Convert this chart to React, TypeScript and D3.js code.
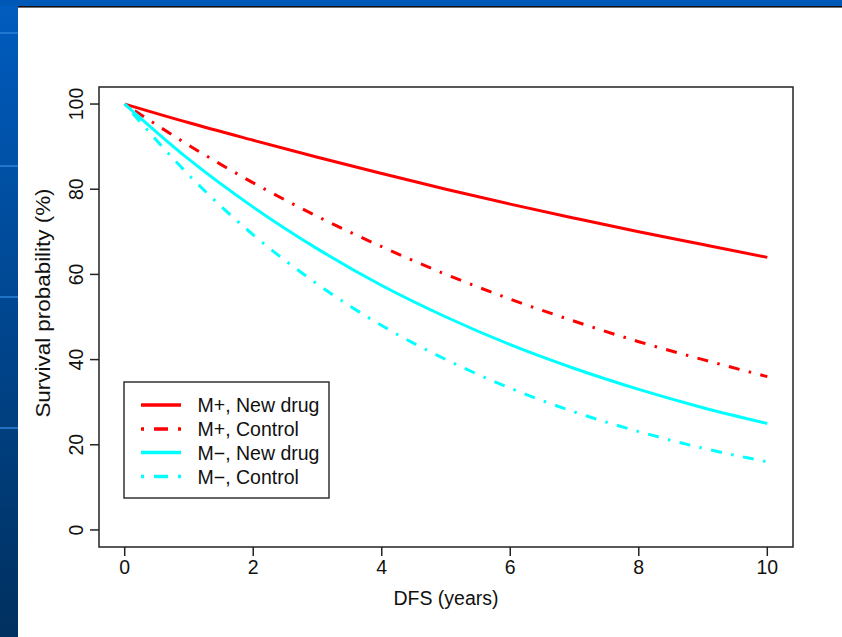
import React from "react";
import * as d3 from "d3";

const years = [0, 1, 2, 3, 4, 5, 6, 7, 8, 9, 10];
const mPlusNew = [100, 95.6, 91.5, 87.5, 83.7, 80, 76.5, 73.2, 70, 67, 64];
const mPlusControl = [100, 90.3, 81.5, 73.6, 66.5, 60, 54.2, 49, 44.2, 40, 36];
const mMinusNew = [100, 87, 75.8, 66, 57.4, 50, 43.5, 37.9, 33, 28.7, 25];
const mMinusControl = [100, 83.3, 69.3, 57.7, 48, 40, 33.3, 27.7, 23.1, 19.2, 16];

const xTicks = [0, 2, 4, 6, 8, 10];
const yTicks = [0, 20, 40, 60, 80, 100];

const seriesNames = ["M+, New drug", "M+, Control", "M\u2212, New drug", "M\u2212, Control"];
const seriesColors = ["#ff0000", "#ff0000", "#00ffff", "#00ffff"];
const seriesDashed = [false, true, false, true];
const seriesValues = [mPlusNew, mPlusControl, mMinusNew, mMinusControl];

const stripeYs = [32, 165, 296, 427];

export default function App() {
  const W = 842;
  const H = 637;
  const left = 99, right = 793, top = 87, bottom = 547;
  const x = d3.scaleLinear().domain([-0.4, 10.4]).range([left, right]);
  const y = d3.scaleLinear().domain([-4, 104]).range([bottom, top]);
  const font = "'Liberation Sans', Arial, sans-serif";
  const fs = 19.5;

  const line = d3
    .line<number>()
    .x((_, i) => x(years[i]))
    .y((d) => y(d))
    .curve(d3.curveMonotoneX);

  const legX = 124, legY = 382, legW = 205, legH = 116;
  const rowYs = [405, 429, 452.5, 476.5];

  return (
    <div style={{ position: "absolute", left: 0, top: 0 }}>
      <svg width={W} height={H} style={{ display: "block" }} fontFamily={font}>
        <defs>
          <linearGradient id="leftBand" x1="0" y1="0" x2="0" y2="1">
            <stop offset="0" stopColor="#005cbf" />
            <stop offset="1" stopColor="#00305f" />
          </linearGradient>
        </defs>
        <rect x={0} y={0} width={W} height={H} fill="#ffffff" />
        <rect x={0} y={0} width={18} height={H} fill="url(#leftBand)" />
        {stripeYs.map((sy) => (
          <rect key={sy} x={0} y={sy} width={18} height={2} fill="#2a80d6" opacity={0.8} />
        ))}
        <rect x={0} y={0} width={W} height={6} fill="#0058b6" />
        <rect x={18} y={6} width={W - 18} height={1.6} fill="#111111" />

        {/* plot box */}
        <rect x={left} y={top} width={right - left} height={bottom - top} fill="none" stroke="#222" strokeWidth={1.5} />

        {/* x axis */}
        {xTicks.map((t) => (
          <g key={"x" + t}>
            <line x1={x(t)} x2={x(t)} y1={bottom} y2={bottom + 9} stroke="#222" strokeWidth={1.5} />
            <text x={x(t)} y={573.5} textAnchor="middle" fontSize={fs} fill="#111">
              {t}
            </text>
          </g>
        ))}
        <text x={(left + right) / 2} y={605} textAnchor="middle" fontSize={fs} fill="#111">
          DFS (years)
        </text>

        {/* y axis */}
        {yTicks.map((t) => (
          <g key={"y" + t}>
            <line x1={left - 9} x2={left} y1={y(t)} y2={y(t)} stroke="#222" strokeWidth={1.5} />
            <text
              transform={`translate(83,${y(t)}) rotate(-90)`}
              textAnchor="middle"
              fontSize={fs}
              fill="#111"
            >
              {t}
            </text>
          </g>
        ))}
        <text
          transform={`translate(50,303) rotate(-90) scale(1.15,1)`}
          textAnchor="middle"
          fontSize={fs}
          fill="#111"
        >
          Survival probability (%)
        </text>

        {/* curves */}
        {seriesValues.map((vals, i) => (
          <path
            key={"s" + i}
            d={line(vals) || ""}
            fill="none"
            stroke={seriesColors[i]}
            strokeWidth={3}
            strokeDasharray={seriesDashed[i] ? "2.5 9.5 11 9.5" : undefined}
          />
        ))}

        {/* legend */}
        <rect x={legX} y={legY} width={legW} height={legH} fill="#fff" stroke="#333" strokeWidth={1.5} />
        {seriesNames.map((name, i) => (
          <g key={"l" + i}>
            <line
              x1={141}
              x2={181}
              y1={rowYs[i]}
              y2={rowYs[i]}
              stroke={seriesColors[i]}
              strokeWidth={3.5}
              strokeDasharray={seriesDashed[i] ? "3 10 14 10 3 100" : undefined}
            />
            <text x={197.5} y={rowYs[i] + 7} fontSize={fs} fill="#111">
              {name}
            </text>
          </g>
        ))}
      </svg>
    </div>
  );
}
